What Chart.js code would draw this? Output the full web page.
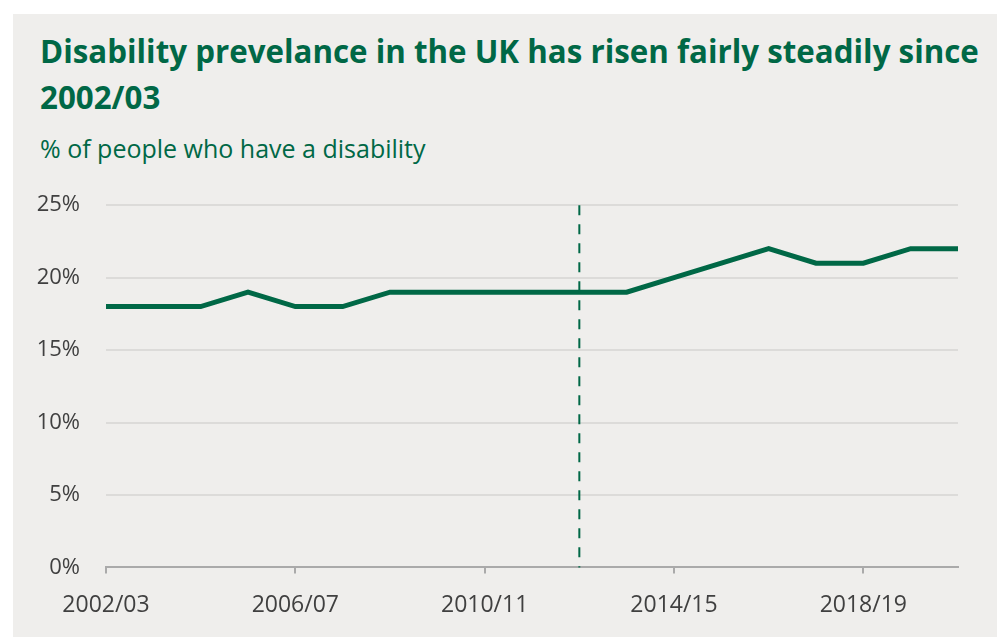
<!DOCTYPE html>
<html>
<head>
<meta charset="utf-8">
<script src="https://cdn.jsdelivr.net/npm/chart.js@4.4.1/dist/chart.umd.min.js"></script>
<style>
  html, body { margin: 0; padding: 0; background: #fff; }
  body { width: 997px; height: 637px; position: relative; overflow: hidden; }
  .panel { position: absolute; left: 13px; top: 14px; right: 0; bottom: 0; background: #efeeec; }
  h1 {
    position: absolute; left: 40px; top: 28px; width: 957px; margin: 0;
    font-family: "Open Sans", sans-serif; font-weight: 700; font-size: 31.3px;
    line-height: 46px; color: #006846;
  }
  .sub {
    position: absolute; left: 40px; top: 131px; margin: 0;
    font-family: "Open Sans", sans-serif; font-size: 25px; color: #006846;
  }
  .wrap { position: absolute; left: 0; top: 166px; width: 997px; height: 471px; }
</style>
</head>
<body>
<div class="panel"></div>
<h1>Disability prevelance in the UK has risen fairly steadily since 2002/03</h1>
<p class="sub">% of people who have a disability</p>
<div class="wrap"><canvas id="chart"></canvas></div>
<script>
// survey years
const years = ['2002/03', '2003/04', '2004/05', '2005/06', '2006/07', '2007/08', '2008/09',
  '2009/10', '2010/11', '2011/12', '2012/13', '2013/14', '2014/15', '2015/16', '2016/17',
  '2017/18', '2018/19', '2019/20', '2020/21'];
// share of people reporting a disability (%)
const disabilityPct = [18, 18, 18, 19, 18, 18, 19, 19, 19, 19, 19, 19, 20, 21, 22, 21, 21, 22, 22];
const yTicks = [0, 5, 10, 15, 20, 25];
const breakYear = '2012/13'; // series break marker
const labelEvery = 4;

const green = '#006846';

// dashed vertical line at the series break
const breakLine = {
  id: 'breakLine',
  afterDatasetsDraw(chart) {
    const { ctx, chartArea, scales } = chart;
    const x = scales.x.getPixelForValue(years.indexOf(breakYear));
    ctx.save();
    ctx.strokeStyle = green;
    ctx.lineWidth = 2;
    ctx.setLineDash([10, 9]);
    ctx.beginPath();
    ctx.moveTo(x, chartArea.top);
    ctx.lineTo(x, chartArea.bottom);
    ctx.stroke();
    ctx.restore();
  }
};

new Chart(document.getElementById('chart'), {
  type: 'line',
  data: {
    labels: years,
    datasets: [{
      data: disabilityPct,
      borderColor: green,
      borderWidth: 5,
      pointRadius: 0,
      tension: 0,
      fill: false
    }]
  },
  options: {
    responsive: true,
    maintainAspectRatio: false,
    animation: false,
    layout: { padding: { left: 0, right: 39, top: 18, bottom: 0 } },
    plugins: { legend: { display: false }, tooltip: { enabled: false } },
    scales: {
      x: {
        offset: false,
        border: { color: '#aaaaaa', width: 2 },
        grid: {
          drawOnChartArea: false,
          tickLength: 6,
          color: ctx => (ctx.index % labelEvery === 0 ? '#aaaaaa' : 'rgba(0,0,0,0)'),
          lineWidth: 2
        },
        ticks: {
          autoSkip: false,
          maxRotation: 0,
          padding: 18,
          color: '#404040',
          font: { family: 'Open Sans', size: 23 },
          callback: (v, i) => (i % labelEvery === 0 ? years[i] : '')
        }
      },
      y: {
        min: yTicks[0],
        max: yTicks[yTicks.length - 1],
        afterFit: axis => { axis.width = 106; },
        afterBuildTicks: axis => { axis.ticks = yTicks.map(v => ({ value: v })); },
        border: { display: false },
        grid: { color: '#dcdbd9', lineWidth: 2, drawTicks: false },
        ticks: {
          padding: 26,
          color: '#404040',
          font: { family: 'Open Sans', size: 22 },
          callback: v => v + '%'
        }
      }
    }
  },
  plugins: [breakLine]
});
</script>
</body>
</html>
